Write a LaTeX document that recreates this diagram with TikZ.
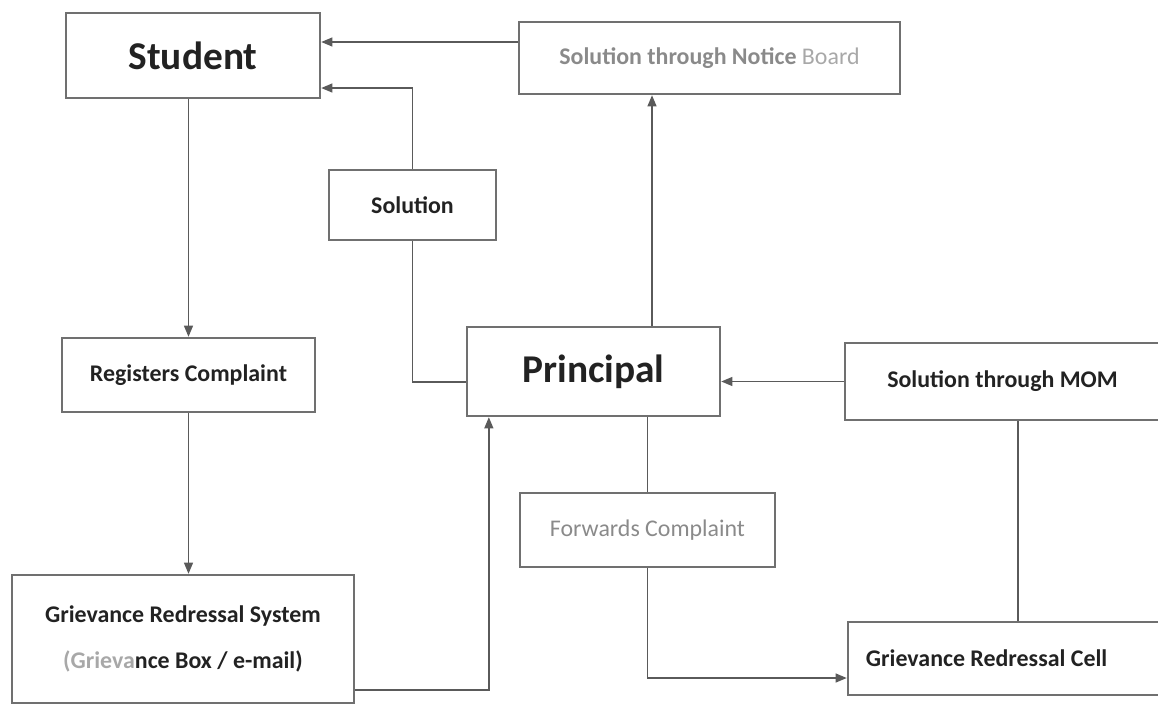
\documentclass[tikz,border=0pt]{standalone}
\usepackage{fontspec}
\setmainfont{Carlito}
\usetikzlibrary{positioning,% relative placement
arrows.meta}%              triangle tips
\definecolor{linegray}{HTML}{5A5A5A}
\definecolor{boxgray}{HTML}{707070}
\definecolor{inkgray}{HTML}{8A8A8A}
\definecolor{palegray}{HTML}{A8A8A8}
\definecolor{ink}{HTML}{222222}
\tikzset{every node/.style={font=\fontsize{17}{24}\selectfont\bfseries, text=ink},
  box/.style={draw=boxgray, line width=1.6pt, rectangle, inner sep=0pt, align=center},
  bigbox/.style={box, font=\fontsize{28}{32}\selectfont\bfseries},
  arr/.style={draw=linegray, line width=1.3pt, -{Triangle[length=0.28cm,width=0.22cm]}},
  conn/.style={draw=linegray, line width=1.3pt}}

\begin{document}
\begin{tikzpicture}[x=0.025cm, y=-0.025cm]
  \useasboundingbox (0,0) rectangle (1158,705);
  \node[bigbox, minimum width=6.35cm, minimum height=2.125cm] (stud) at (193,55.5) {Student};
  \node[box, minimum width=9.525cm, minimum height=1.8cm] (nb) at (709.5,58)
    {\textcolor{inkgray}{Solution through Notice} \textcolor{palegray}{\mdseries Board}};
  \node[box, minimum width=4.175cm, minimum height=1.75cm] (sol) at (412.5,205) {Solution};
  \node[box, minimum width=6.325cm, minimum height=1.85cm] (rc) at (188.5,375) {Registers Complaint};
  \node[bigbox, minimum width=6.325cm, minimum height=2.225cm] (prin) at (593.5,371.5) {Principal};
  \node[box, minimum width=7.875cm, minimum height=1.925cm] (mom) at (1002.5,381.5) {Solution through MOM};
  \node[box, minimum width=6.375cm, minimum height=1.85cm, font=\fontsize{17}{24}\selectfont, text=inkgray]
    (fc) at (647.5,530) {Forwards Complaint};
  \node[box, minimum width=8.55cm, minimum height=3.2cm, font=\fontsize{17}{33}\selectfont\bfseries]
    (grs) at (183,639) {Grievance Redressal System\\{\color{palegray}(Grieva}nce Box / e-mail)};
  \node[box, inner xsep=0.45cm, minimum height=1.825cm]
    (grc) at (1004,658.5) {\makebox[6.9cm][l]{Grievance Redressal Cell}};

  \draw[arr] ([yshift=0.4cm]nb.west) -- ([yshift=0.4cm]nb.west -| stud.east);
  \draw[arr] (sol.north) |- ([yshift=-0.8125cm]stud.east);
  \draw[conn] (sol.south) |- ([yshift=-0.26cm]prin.west);
  \draw[arr] (rc.north |- stud.south) -- (rc.north);
  \draw[arr] (rc.south) -- (rc.south |- grs.north);
  \draw[arr] ([yshift=-1.275cm]grs.east) -| ([xshift=0.575cm]prin.south west);
  \draw[arr] ([xshift=1.4625cm]prin.north) -- ([xshift=1.4625cm]prin.north |- nb.south);
  \draw[arr] (mom.west) -- (mom.west -| prin.east);
  \draw[conn] (fc.north |- prin.south) -- (fc.north);
  \draw[arr] (fc.south) |- ([yshift=-0.4875cm]grc.west);
  \draw[conn] ([xshift=0.39cm]mom.south) -- ([xshift=0.39cm]mom.south |- grc.north);
\end{tikzpicture}
\end{document}
